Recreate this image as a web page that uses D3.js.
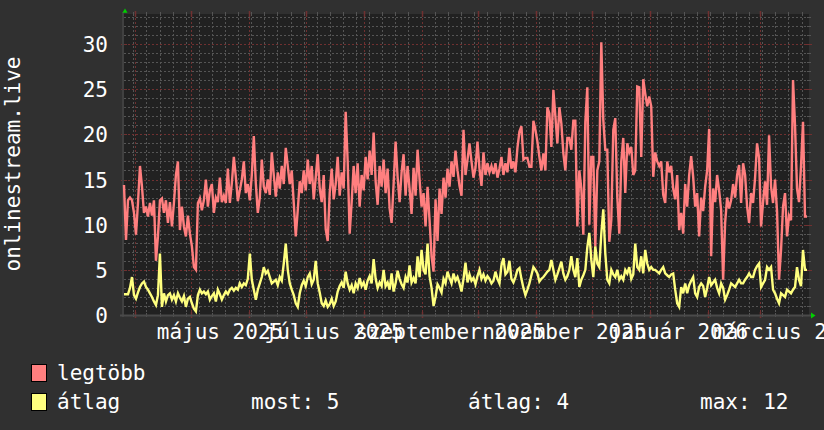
<!DOCTYPE html>
<html><head><meta charset="utf-8">
<script src="https://cdn.jsdelivr.net/npm/d3@7/dist/d3.min.js"></script>
<style>
html,body{margin:0;padding:0;background:#303030;}
svg{display:block;}
text{font-family:"DejaVu Sans Mono",monospace;fill:#ffffff;}
</style>
</head><body><svg id="c" width="824" height="430"></svg>
<script>
// ---- data ----
const startDate = new Date(2025, 2, 26);
const endDate = new Date(2026, 2, 27);
const legtobb = [
14.4,8.3,12.7,13,12.7,11.3,8.9,12.4,16.5,14.2,
11.3,12,10.9,12.4,11,12.7,6,8.7,12.7,12.9,
11.3,12.7,10.2,12.5,9.8,12.4,15.5,17,9.4,12,
9.8,8.7,11,9,7.6,5.3,5,12.4,12.9,11.6,
12.7,15,12,13.8,14.5,11.3,13,12.5,15.2,12.5,
13.2,12.4,16.2,12.4,14.6,17.5,15.3,12.6,13.8,15,
17,13.5,14.5,12.7,15.5,19.8,14.6,11.3,13,17.2,
14.2,13.5,15,13.3,18,15.5,13.1,15.8,14,16.5,
14.5,18.5,16.5,14.5,16,12.4,8.7,11.6,14.8,13.5,
16,13.8,17.2,14.5,16.5,12.8,15.2,17.8,14,12.5,
15.5,9.5,8.2,13.5,16.2,12.8,14.5,17.5,13.2,15.8,
14,22.5,17,9,12.5,16.5,13.5,16.8,12,15.5,
13.8,17.5,15,18.2,15.5,20.2,14.8,12.2,16.5,14.2,
17.2,13.5,16.2,11.8,10.2,14.5,19.2,15.3,12.5,15.8,
17.8,13.2,16.5,14,11.2,16.3,13.2,18.3,15,12,
13.5,9.8,14.2,10.5,6.5,4.8,12.8,8.2,14,11.2,
15.2,13,16.2,14.2,17,15.3,18.2,16,14.3,13.2,
20.5,15.5,17.2,19,17,15.2,16.3,19.2,16.2,14.3,
18,15.5,16.8,15.8,16.5,15.6,16.8,15.2,16.2,17.5,
15.5,16.8,15.8,18.5,16.2,17,15.8,18.5,20.3,20.9,
17.2,17.4,17.4,16.4,16.4,21.5,20.5,19.2,17.5,16,
17.9,16,23,22.3,18.6,24.9,22,19,23,21.2,
17.9,16,19.6,19.6,18.3,21.5,21.5,9.8,16,14,
8.9,21.4,25.2,10,17.5,17.5,7.6,16,17,30.2,
21.6,18.3,18.3,8.1,10.5,20.5,21.8,13.1,9,17,
19.6,13.5,19,18,18.6,15.5,16,25.3,25.2,17.5,
26.1,24.5,23.1,24.2,23.1,15.3,18,17,16.5,17,
13.3,12.4,17,15.8,16.5,14,12.8,15.5,9.4,11.3,
9,14.5,12,15.5,17.6,15.3,12,13.5,8.7,13,
11.5,14.2,16,20.6,6.5,14,12.5,15.5,13.8,11.6,
3.9,10.2,13,11.8,12.7,14.5,13,15.5,16.6,12.4,
16.8,15.5,12,10.2,13.5,12.4,15.2,19,17.4,9.8,
12.5,14.8,12.2,19.9,14.2,12.4,15,11.5,3.9,7.2,
12,13.5,8.7,11,10.5,26,21,14,12.5,16.5,21.4,10.9,10.9
];
const atlag = [
2.3,2.3,2.3,3,4.2,2.2,1.8,2.5,3.1,3.5,
3.7,3.1,2.8,2.4,2,1.5,1.1,2.2,6.8,0.9,
2.4,1.5,2.2,2.4,1.7,2.2,1.5,2.4,1.9,1.5,
2.1,0.9,1.8,2,1.3,0.7,0.4,2.2,2.8,2.4,
2.6,2.3,2.6,1.7,2.1,2.4,1.5,2.8,2.3,1.7,
2.2,2.6,2.3,2.8,3,2.7,3,2.8,3.5,3.1,
3.5,3.3,4,6.8,3.9,2.8,1.7,2.8,3.5,4.2,
5.3,4.6,4.9,4.2,3.5,3.7,3.9,3.3,4.2,3.8,
5.7,7.9,5,3.5,2.8,2.2,1.3,0.9,2.4,3.3,
3.8,3.2,4.2,4.6,3.4,3.9,6,3.5,2.5,1.3,
1,1.6,0.9,1.2,1.8,1,1.5,2.6,3.2,3.6,
3,4.8,3.5,2.8,3.3,2.4,3.5,3,4.1,3.2,
3.6,2.8,3.8,4.3,3.5,6.2,4,3,3.6,3.2,
5,3.2,3.6,2.8,4.6,2.6,3.5,4.9,4,3.4,
3,4.2,3.6,5.5,3.6,4.1,3.5,6.5,4.2,7.2,
5,4.5,7.9,4.3,3,1,2,3.4,3,2.5,
4,3.5,4.8,4.1,3.5,4.6,3.8,4.2,3.5,2.6,
4,5.8,3.6,4.5,3.8,4.1,3.4,4.3,5,4,
4.5,3.8,4.3,4,3.5,3.8,4.8,4,3.5,5.5,
6.3,4.5,4.8,6,4,3.6,4.2,5,5.2,4,
3,2.2,2.8,3.5,4.4,5.3,5,4.6,3.7,4,
4.2,4.5,4.8,5,6.1,5,3.9,4.5,5.2,5.9,
4.6,3.9,4.3,5,6.5,5,4.2,6.3,3.1,3.9,
4.4,5,7.5,9.1,6.1,4.2,7.6,5.7,5.3,9,
11.7,6.8,3.9,3.5,5,4.5,4.2,5,3.9,4.3,
3.9,5,4.6,5.3,4,4.5,7.9,5.3,5,6.5,
4.6,7.2,5.7,5,5.3,5,5,4.8,4.6,5,
5.3,4.6,4.4,4.2,4.5,4.6,2.8,1.3,0.9,3.1,
2.4,3.5,2.4,3.3,3.8,4.2,2.4,2,3.1,3.5,
3.2,2,3,4.2,3.3,3.6,3.9,3,2.4,3.5,
3,1.7,2.2,2.8,3.5,3.3,3.1,3.5,3.9,3.5,
3.5,3.9,4.2,4.6,4.2,4.2,5,5.4,5.7,3.1,
3.5,3.9,5.3,5,5.3,2.8,2.4,1.8,1.3,2.4,
2.2,2,2.8,2.6,2.4,2.8,3.1,5.3,3.9,3.2,7.2,5,5
];
const yTicks = [0, 5, 10, 15, 20, 25, 30];
const monthLabelDates = [new Date(2025,4,16), new Date(2025,6,16), new Date(2025,8,16), new Date(2025,10,16), new Date(2026,0,16), new Date(2026,2,16)];
const monthLabels = ["május 2025", "július 2025", "szeptember 2025", "november 2025", "január 2026", "március 2026"];
const yTitle = "onlinestream.live";
const seriesNames = ["legtöbb", "átlag"];
const seriesColors = ["#ff7f7f", "#ffff7f"];
const statLabels = ["most: 5", "átlag: 4", "max: 12"];

// ---- layout ----
const L = 124, R = 809, T = 14, B = 315;
const svg = d3.select("#c");
svg.append("rect").attr("width", 824).attr("height", 430).attr("fill", "#303030");
svg.append("rect").attr("x", L).attr("y", T).attr("width", R - L).attr("height", B - T).attr("fill", "#212121");

const x = d3.scaleTime().domain([startDate, endDate]).range([L, R]);
const y = d3.scaleLinear().domain([0, (B - T) / 9.033]).range([B, T]);
const N = legtobb.length;
const step = (endDate - startDate) / N;
const times = d3.range(N).map(i => new Date(+startDate + i * step));

const minorC = "#555555", majorC = "#703030";
const g = svg.append("g");
// minor horizontal
d3.range(1, 34).filter(v => v % 5 !== 0).forEach(v => {
  const yy = Math.round(y(v)) + 0.5;
  g.append("line").attr("x1", L).attr("x2", R).attr("y1", yy).attr("y2", yy)
   .attr("stroke", minorC).attr("stroke-dasharray", "2,2").attr("stroke-width", 1);
  g.append("line").attr("x1", L - 2).attr("x2", L + 2).attr("y1", yy).attr("y2", yy).attr("stroke", minorC);
  g.append("line").attr("x1", R - 2).attr("x2", R + 2).attr("y1", yy).attr("y2", yy).attr("stroke", minorC);
});
// minor vertical (weekly)
d3.timeMonday.range(startDate, endDate).forEach(d => {
  const xx = Math.round(x(d)) + 0.5;
  g.append("line").attr("x1", xx).attr("x2", xx).attr("y1", T).attr("y2", B)
   .attr("stroke", minorC).attr("stroke-dasharray", "2,2");
  g.append("line").attr("x1", xx).attr("x2", xx).attr("y1", T - 2).attr("y2", T + 2).attr("stroke", minorC);
  g.append("line").attr("x1", xx).attr("x2", xx).attr("y1", B - 2).attr("y2", B + 2).attr("stroke", minorC);
});
// major horizontal
yTicks.filter(v => v > 0).forEach(v => {
  const yy = Math.round(y(v)) + 0.5;
  g.append("line").attr("x1", L).attr("x2", R).attr("y1", yy).attr("y2", yy)
   .attr("stroke", majorC).attr("stroke-dasharray", "2,2");
  g.append("line").attr("x1", L - 3).attr("x2", L + 3).attr("y1", yy).attr("y2", yy).attr("stroke", majorC);
  g.append("line").attr("x1", R - 3).attr("x2", R + 3).attr("y1", yy).attr("y2", yy).attr("stroke", majorC);
});
// major vertical (monthly)
d3.timeMonth.range(startDate, endDate).forEach(d => {
  const xx = Math.round(x(d)) + 0.5;
  g.append("line").attr("x1", xx).attr("x2", xx).attr("y1", T).attr("y2", B)
   .attr("stroke", majorC).attr("stroke-dasharray", "2,2");
  g.append("line").attr("x1", xx).attr("x2", xx).attr("y1", T - 3).attr("y2", T + 3).attr("stroke", majorC).attr("stroke-width", 1.5);
  g.append("line").attr("x1", xx).attr("x2", xx).attr("y1", B - 3).attr("y2", B + 3).attr("stroke", majorC).attr("stroke-width", 1.5);
});

// axes lines
svg.append("line").attr("x1", L - 1).attr("x2", L - 1).attr("y1", 12).attr("y2", B + 2).attr("stroke", "#404040").attr("stroke-width", 2);
svg.append("line").attr("x1", L - 4).attr("x2", R + 3).attr("y1", B + 0.5).attr("y2", B + 0.5).attr("stroke", "#4a4a4a").attr("stroke-width", 2);
// arrows
svg.append("path").attr("d", "M122.5,12.7 L125,8.5 L127.5,12.7 Z").attr("fill", "#00d000");
svg.append("path").attr("d", "M811,312.5 L815.5,315.5 L811,318.5 Z").attr("fill", "#00d000");

// lines
const lineGen = d3.line().x((d, i) => x(times[i])).y(d => y(d));
[legtobb, atlag].forEach((arr, si) => {
  svg.append("path").datum(arr).attr("d", lineGen).attr("fill", "none")
    .attr("stroke", seriesColors[si]).attr("stroke-width", 2.4).attr("stroke-linejoin", "miter");
});

// y axis labels
const yAxis = d3.axisLeft(y).tickValues(yTicks).tickSize(0).tickPadding(16).tickFormat(d3.format("d"));
const ya = svg.append("g").attr("transform", `translate(${L},0)`).call(yAxis);
ya.select(".domain").remove();
ya.selectAll("text").attr("dy", "0.36em").style("font-size", "21px").style("font-family", "DejaVu Sans Mono").attr("fill", "#ffffff");

// x axis labels
const xAxis = d3.axisBottom(x).tickValues(monthLabelDates).tickSize(0).tickPadding(9).tickFormat((d, i) => monthLabels[i]);
const xa = svg.append("g").attr("transform", `translate(0,${B})`).call(xAxis);
xa.select(".domain").remove();
xa.selectAll("text").style("font-size", "21px").style("font-family", "DejaVu Sans Mono").attr("fill", "#ffffff");

// y title
svg.append("text").attr("transform", "translate(20,164) rotate(-90)").attr("text-anchor", "middle")
  .style("font-size", "21px").text(yTitle);

// legend
const legY = [364, 393];
const legBase = [379.5, 409];
seriesNames.forEach((n, i) => {
  svg.append("rect").attr("x", 31.5).attr("y", legY[i] + 0.5).attr("width", 15).attr("height", 17)
    .attr("fill", seriesColors[i]).attr("stroke", "#000").attr("stroke-width", 1);
  svg.append("text").attr("x", 57).attr("y", legBase[i]).style("font-size", "21px").text(n);
});
const statX = [251, 468, 700];
statLabels.forEach((s, i) => {
  svg.append("text").attr("x", statX[i]).attr("y", legBase[1]).style("font-size", "21px").text(s);
});
</script>
</body></html>
